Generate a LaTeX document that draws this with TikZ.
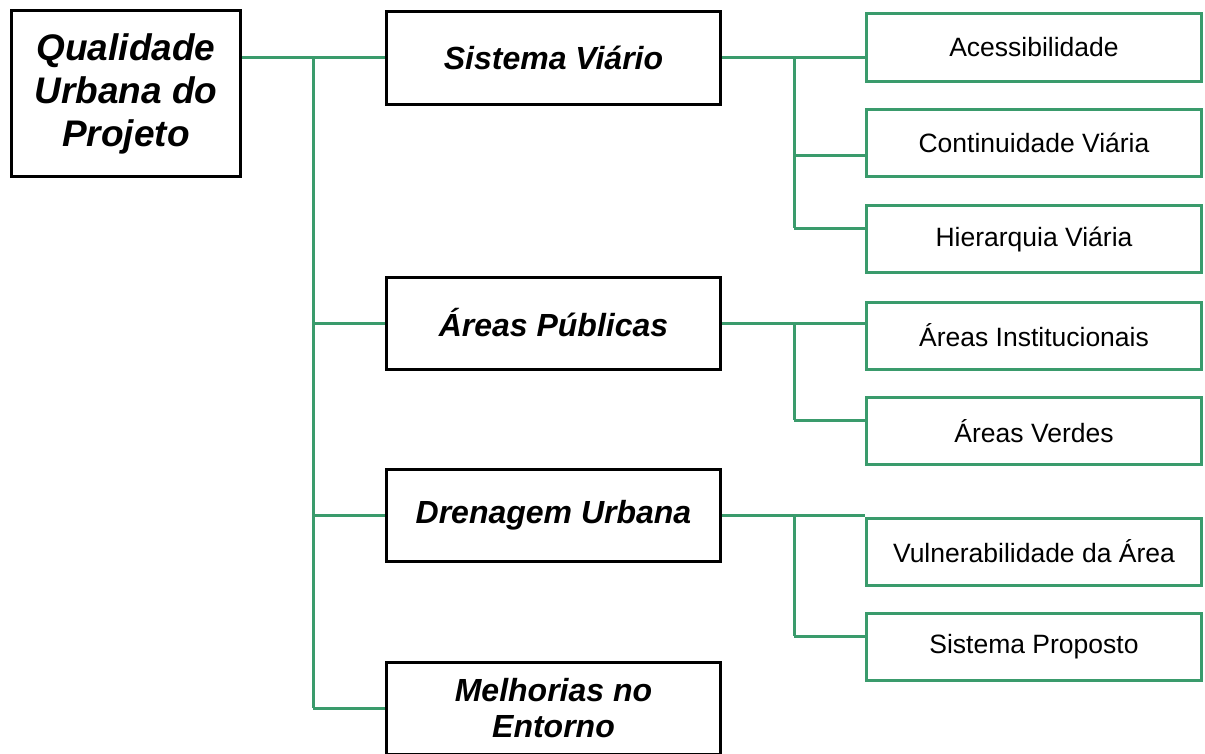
\documentclass[tikz,border=0pt]{standalone}
\usepackage{fontspec}
\setmainfont{Liberation Sans}
\usetikzlibrary{positioning}
\definecolor{linkgreen}{RGB}{58,155,108}

\begin{document}
\begin{tikzpicture}[x=1bp, y=-1bp,
  mainbox/.style={draw=black, line width=3bp, align=center, inner sep=0pt,
    minimum width=229bp, minimum height=166bp,
    font=\fontsize{37bp}{43bp}\selectfont\bfseries\itshape},
  topicbox/.style={draw=black, line width=3bp, align=center, inner sep=0pt,
    minimum width=334bp, minimum height=92bp,
    font=\fontsize{32bp}{36bp}\selectfont\bfseries\itshape},
  itembox/.style={draw=linkgreen, line width=3bp, align=center, inner sep=0pt,
    minimum width=335bp, minimum height=67bp,
    font=\fontsize{26.5bp}{30bp}\selectfont},
  link/.style={draw=linkgreen, line width=3bp}]
\useasboundingbox (0,0) rectangle (1205,754);

% root
\node[mainbox] (root) at (126,93.5) {Qualidade\\Urbana do\\Projeto};

% topics
\node[topicbox] (sv) at (553.5,58) {Sistema Viário};
\node[topicbox] (ap) at (553.5,323) {Áreas Públicas};
\node[topicbox] (du) at (553.5,515.5) {Drenagem Urbana};
\node[topicbox] (me) at (553.5,708) {Melhorias no\\Entorno};

% items
\node[itembox] (acc) at (1034,47.5) {Acessibilidade};
\node[itembox] (cv) at (1034,143) {Continuidade Viária};
\node[itembox] (hv) at (1034,239) {Hierarquia Viária};
\node[itembox] (ai) at (1034,335.5) {Áreas Institucionais};
\node[itembox] (av) at (1034,431) {Áreas Verdes};
\node[itembox] (va) at (1034,551.5) {Vulnerabilidade da Área};
\node[itembox] (sp) at (1034,647) {Sistema Proposto};

% trunk from the root
\coordinate (t0) at (313,58);
\draw[link] (root.east |- sv.west) -- (sv.west);
\draw[link] (t0) -- (t0 |- me.west);
\draw[link] (t0 |- ap.west) -- (ap.west);
\draw[link] (t0 |- du.west) -- (du.west);
\draw[link] (t0 |- me.west) -- (me.west);

% Sistema Viario branches
\coordinate (s1) at (794,155);
\coordinate (s2) at (794,228);
\draw[link] (sv.east) -- (acc.west |- sv.east);
\draw[link] (s2 |- sv.east) -- (s2);
\draw[link] (s1) -- (s1 -| cv.west);
\draw[link] (s2) -- (s2 -| hv.west);

% Areas Publicas branches
\coordinate (a1) at (794,420);
\draw[link] (ap.east) -- (ai.west |- ap.east);
\draw[link] (a1 |- ap.east) -- (a1);
\draw[link] (a1) -- (a1 -| av.west);

% Drenagem Urbana branches
\coordinate (d1) at (794,636);
\draw[link] (du.east) -- (va.west |- du.east);
\draw[link] (d1 |- du.east) -- (d1);
\draw[link] (d1) -- (d1 -| sp.west);
\end{tikzpicture}
\end{document}
